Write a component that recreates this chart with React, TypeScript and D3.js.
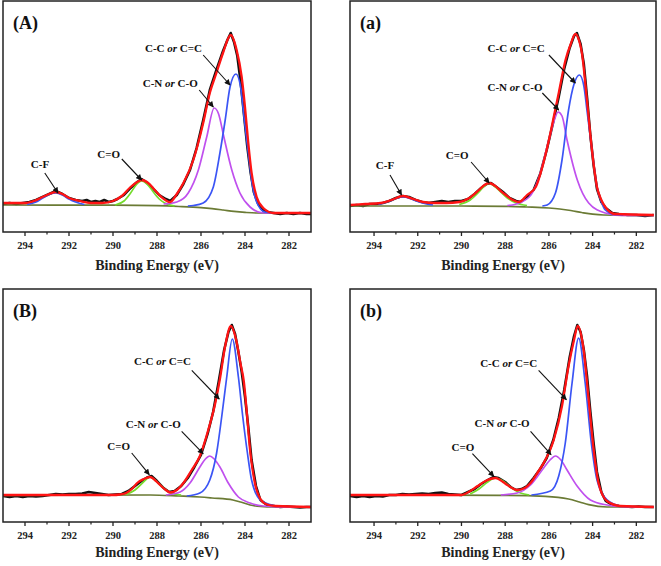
import React from "react";
import * as d3 from "d3";

type Pt = [number, number];

// ---- (A) ----
const rawA: Pt[] = [[295,28],[294.7,29],[294.4,28],[294.1,29],[293.8,30],[293.5,32],[293.2,35],[292.9,38],[292.6,41],[292.3,38],[292.0,34],[291.7,32],[291.4,31],[291.2,32],[291.0,30],[290.8,31],[290.6,30],[290.4,32],[290.2,30],[290.0,31],[289.8,33],[289.5,37],[289.2,44],[288.9,50],[288.7,53],[288.5,50],[288.2,44],[287.9,37],[287.6,33],[287.4,31],[287.1,37],[286.8,48],[286.5,62],[286.2,84],[285.9,112],[285.6,142],[285.3,162],[285.0,181],[284.8,192],[284.65,199],[284.5,190],[284.35,176],[284.2,150],[284.05,118],[283.9,86],[283.75,60],[283.6,40],[283.4,28],[283.2,22],[283.0,20],[282.7,19],[282.4,18],[282.1,19],[281.8,18],[281.5,19],[281.2,18],[281,18]];
const fitA: Pt[] = [[295,29],[294,29],[293.6,31],[293.2,35],[292.9,38],[292.6,40],[292.3,38],[292,34],[291.5,31],[291,29],[290.5,29],[290,31],[289.6,36],[289.2,45],[288.9,50],[288.7,52],[288.4,49],[288.1,42],[287.8,35],[287.4,30],[287.1,38],[286.8,49],[286.35,72],[285.9,109],[285.6,139],[285.3,159],[285.0,179],[284.65,197],[284.38,182],[284.15,155],[284.0,125],[283.85,89],[283.7,59],[283.47,35],[283.17,24],[282.7,19],[281,19]];
const ccA: Pt[] = [[286.6,26],[286.35,26.5],[285.9,29],[285.44,45],[285.14,79],[284.9,112],[284.68,145],[284.41,158],[284.2,145],[284.03,112],[283.85,79],[283.7,52],[283.47,30],[283.1,20],[282.7,19]];
const cnA: Pt[] = [[287.7,28],[287.1,30],[286.58,39],[286.12,62],[285.74,95],[285.4,124],[285.2,118],[284.98,97],[284.6,62],[284.23,39],[283.77,25],[283.17,19],[282.8,19]];
const coA: Pt[] = [[289.9,27],[289.5,31],[289.2,39],[288.95,47],[288.7,51],[288.45,48],[288.2,41],[287.9,33],[287.6,28.5],[287.2,26]];
const cfA: Pt[] = [[293.9,27.5],[293.5,30],[293.2,34],[292.9,37.5],[292.6,39],[292.3,37],[292,33],[291.7,30],[291.3,27.5]];
const bgA: Pt[] = [[295,27],[290,26.8],[288,26.3],[287,25.5],[286,24.3],[285.5,23.3],[285,22],[284.5,20.6],[284,19.6],[283.5,19],[281,18.8]];

// ---- (a) ----
const rawa: Pt[] = [[295.1,26],[294.8,27],[294.5,26],[294.2,28],[293.9,28],[293.6,29],[293.3,31],[293.0,34],[292.7,36],[292.4,35],[292.1,32],[291.8,30],[291.5,29],[291.2,30],[290.9,31],[290.6,30],[290.3,31],[290.0,31],[289.7,33],[289.4,38],[289.1,44],[288.85,48],[288.65,49],[288.4,45],[288.1,40],[287.8,34],[287.5,31],[287.3,30],[287.0,35],[286.7,42],[286.4,58],[286.1,82],[285.8,110],[285.55,135],[285.3,163],[285.05,184],[284.85,196],[284.72,199],[284.55,188],[284.4,168],[284.25,134],[284.1,96],[283.95,66],[283.8,43],[283.6,30],[283.4,24],[283.1,19],[282.8,18],[282.4,17],[282.0,17],[281.6,16],[281.2,17]];
const fita: Pt[] = [[295.1,27],[294.4,28],[293.7,29],[293.2,32],[292.67,36],[292.2,33],[291.76,30],[291.2,29],[290.7,29],[290.1,30],[289.64,34],[289.2,42],[288.95,47],[288.73,49],[288.45,46],[288.2,41],[287.97,37],[287.65,32],[287.36,30],[287.0,37],[286.6,45],[286.3,65],[286.0,92],[285.75,118],[285.55,139],[285.24,172],[285.0,188],[284.79,198],[284.6,190],[284.49,179],[284.26,132],[284.03,82],[283.8,45],[283.6,32],[283.42,25],[282.97,18],[281.2,17]];
const cca: Pt[] = [[286.3,26],[286.08,27],[285.7,39],[285.4,72],[285.1,122],[284.85,148],[284.6,157],[284.4,146],[284.26,122],[284.03,82],[283.8,45],[283.6,30],[283.42,22],[283.0,17.5],[282.6,17]];
const cna: Pt[] = [[287.9,26.5],[287.67,27],[286.9,35],[286.45,55],[286.0,92],[285.75,112],[285.58,120],[285.4,116],[285.17,92],[284.7,52],[284.18,29],[283.42,19],[282.67,16.5],[281.2,16.5]];
const coa: Pt[] = [[290.1,27.5],[289.6,32],[289.2,40],[288.95,46],[288.73,48.5],[288.5,46],[288.2,40],[287.9,34],[287.5,29],[287.0,26.5]];
const cfa: Pt[] = [[293.8,27.5],[293.3,31],[293.0,33.5],[292.67,35],[292.3,33],[292.0,30.5],[291.6,28],[291.3,27]];
const bga: Pt[] = [[295.1,26],[290,26],[288,25.7],[287,25],[286,24],[285.5,23],[285,21.5],[284.5,19.5],[284,17.8],[283.5,17],[281.2,16.5]];

// ---- (B) ----
const rawB: Pt[] = [[295,26],[294.7,25],[294.4,26],[294.1,25],[293.8,26],[293.5,25.5],[293.2,26],[292.9,27],[292.6,28],[292.3,27.5],[292.0,28],[291.7,28],[291.4,28.5],[291.1,30],[290.8,29],[290.5,28],[290.2,27],[289.9,27.5],[289.6,28],[289.3,31],[289.0,36],[288.7,41],[288.45,44.5],[288.25,46],[288.0,41],[287.7,34],[287.45,30],[287.2,31],[286.9,36],[286.6,44],[286.3,55],[286.0,67],[285.7,88],[285.45,110],[285.2,140],[284.95,172],[284.75,190],[284.6,197],[284.45,188],[284.3,170],[284.15,150],[284.0,125],[283.85,95],[283.7,62],[283.5,36],[283.3,22],[283.0,17],[282.7,16],[282.4,15],[282.1,15.5],[281.8,15],[281.5,14.5],[281.2,15],[281,15]];
const fitB: Pt[] = [[295,27],[290,27],[289.7,27.5],[289.4,29],[289.1,34],[288.9,39],[288.6,43],[288.32,45],[288.0,40],[287.86,37],[287.6,32],[287.4,29.5],[287.1,32],[286.8,39],[286.42,52],[286.05,66],[285.67,92],[285.36,118],[285.14,143],[284.9,176],[284.64,196],[284.4,182],[284.2,158],[284.05,140],[283.92,110],[283.77,72],[283.55,39],[283.3,23],[283.0,17.5],[282.6,16],[281,15]];
const ccB: Pt[] = [[286.65,26],[286.05,29],[285.6,42],[285.29,69],[285.06,105],[284.83,145],[284.58,183],[284.3,145],[284.1,105],[283.89,69],[283.7,42],[283.3,22],[282.7,16.5],[282.3,15.5]];
const cnB: Pt[] = [[287.6,27],[286.95,30],[286.5,39],[286.05,55],[285.8,63],[285.6,66],[285.4,63],[285.14,55],[284.76,39],[284.3,25],[283.77,19],[283.17,16],[282.5,15.2],[281,15]];
const coB: Pt[] = [[289.4,27.5],[289.0,32],[288.7,38],[288.5,42.5],[288.32,45],[288.1,42],[287.85,37],[287.6,32],[287.3,28.5],[286.9,27]];
const bgB: Pt[] = [[295,26.7],[288.3,27],[287,26],[286.05,25],[285.5,24],[284.55,22],[284.2,20],[283.77,17],[283.3,15.5],[283.0,15.2],[281,15]];

// ---- (b) ----
const rawb: Pt[] = [[295.1,26],[294.8,25],[294.5,26],[294.2,25],[293.9,26],[293.6,25.5],[293.3,27],[293.0,27],[292.7,28],[292.4,27.5],[292.1,28],[291.8,28.5],[291.5,28],[291.2,29],[290.9,29.5],[290.6,28],[290.3,27.5],[290.0,27],[289.7,30],[289.4,33],[289.1,38],[288.8,42],[288.55,45],[288.3,44],[288.0,40],[287.75,35],[287.5,32],[287.25,33],[287.0,36],[286.7,44],[286.4,53],[286.1,64],[285.8,82],[285.55,104],[285.3,132],[285.05,165],[284.85,186],[284.7,197],[284.55,190],[284.4,172],[284.25,145],[284.1,110],[283.95,78],[283.8,50],[283.6,30],[283.4,21],[283.1,17],[282.8,16],[282.5,15.5],[282.2,15],[281.9,15.5],[281.6,15],[281.2,15]];
const fitb: Pt[] = [[295.1,27],[290,27],[289.6,31],[289.28,35.7],[288.9,41],[288.44,44],[288.1,40],[287.9,37],[287.45,32],[287.1,34],[286.84,39],[286.5,50],[286.24,59],[285.78,82],[285.4,116],[285.1,156],[284.85,182],[284.68,196],[284.41,172],[284.18,122],[283.95,72],[283.73,39],[283.34,21],[282.73,16],[281.2,15]];
const ccb: Pt[] = [[286.8,27],[285.93,31],[285.55,46],[285.25,79],[284.94,139],[284.64,184],[284.34,139],[284.06,79],[283.8,42],[283.34,22],[282.73,16],[282.4,15.5]];
const cnb: Pt[] = [[288.2,27],[287.45,29],[286.84,37],[286.24,54],[285.95,62],[285.7,66],[285.45,62],[285.17,52],[284.71,36],[284.1,22],[283.34,17],[282.6,15.3],[281.2,15]];
const cob: Pt[] = [[289.6,28],[289.2,33],[288.8,40],[288.44,44],[288.1,41],[287.7,34],[287.3,29],[286.9,27]];
const bgb: Pt[] = [[295.1,27],[288.2,26.7],[286.16,25.7],[285.1,23],[284.6,20],[284.18,17.3],[283.34,15],[281.2,15]];

// axis ticks
const majorTicks = [294, 292, 290, 288, 286, 284, 282];
const minorTicks = [293, 291, 289, 287, 285, 283];

// annotations: label parts, text position [E, I], arrow from, arrow to
interface Note { pre: string; it?: string; post?: string; at: Pt; from: Pt; to: Pt }
const notesA: Note[] = [
  { pre: "C-C ", it: "or", post: " C=C", at: [287.25, 180], from: [285.9, 177], to: [284.68, 147] },
  { pre: "C-N ", it: "or", post: " C-O", at: [287.4, 145], from: [286.08, 142], to: [285.44, 125] },
  { pre: "C=O", at: [290.2, 74], from: [289.6, 73], to: [288.7, 52] },
  { pre: "C-F", at: [293.32, 64], from: [293.1, 59], to: [292.5, 39] },
];
const notesa: Note[] = [
  { pre: "C-C ", it: "or", post: " C=C", at: [287.5, 180], from: [286.0, 177], to: [284.79, 149] },
  { pre: "C-N ", it: "or", post: " C-O", at: [287.55, 141], from: [286.3, 139], to: [285.55, 122] },
  { pre: "C=O", at: [290.2, 73], from: [289.56, 70], to: [288.73, 49] },
  { pre: "C-F", at: [293.5, 63], from: [293.27, 57], to: [292.74, 37] },
];
const notesB: Note[] = [
  { pre: "C-C ", it: "or", post: " C=C", at: [287.75, 157], from: [286.42, 151.7], to: [285.17, 123] },
  { pre: "C-N ", it: "or", post: " C-O", at: [288.17, 93.6], from: [286.88, 90.7], to: [285.9, 68.3] },
  { pre: "C=O", at: [289.74, 72], from: [289.15, 69], to: [288.35, 47.3] },
];
const notesb: Note[] = [
  { pre: "C-C ", it: "or", post: " C=C", at: [287.84, 155.3], from: [286.47, 151.7], to: [285.2, 122.3] },
  { pre: "C-N ", it: "or", post: " C-O", at: [288.14, 94.6], from: [286.84, 90.7], to: [285.9, 67.3] },
  { pre: "C=O", at: [289.93, 71], from: [289.5, 68.3], to: [288.52, 45.7] },
];

const RED = "#ff1414";
const BLUE = "#3b55f5";
const MAGENTA = "#c050ee";
const GREEN = "#74dc2c";
const OLIVE = "#6b7b35";
const FONT = "'Liberation Serif', 'Times New Roman', serif";

interface PanelDef {
  tag: string; x: number; y: number; w: number; h: number; yMax: number;
  domain: [number, number]; titleDy: number;
  raw: Pt[]; fit: Pt[]; bg: Pt[]; cc: Pt[]; cn: Pt[]; co: Pt[]; cf?: Pt[]; notes: Note[];
}

const panels: PanelDef[] = [
  { tag: "(A)", x: 3, y: 1, w: 308, h: 231, yMax: 231, domain: [295, 281], titleDy: 38, raw: rawA, fit: fitA, bg: bgA, cc: ccA, cn: cnA, co: coA, cf: cfA, notes: notesA },
  { tag: "(a)", x: 350, y: 1, w: 306, h: 231, yMax: 231, domain: [295.1, 281.1], titleDy: 38, raw: rawa, fit: fita, bg: bga, cc: cca, cn: cna, co: coa, cf: cfa, notes: notesa },
  { tag: "(B)", x: 3, y: 289, w: 308, h: 233, yMax: 233, domain: [295, 281], titleDy: 35, raw: rawB, fit: fitB, bg: bgB, cc: ccB, cn: cnB, co: coB, notes: notesB },
  { tag: "(b)", x: 350, y: 289, w: 306, h: 233, yMax: 233, domain: [295.1, 281.1], titleDy: 35, raw: rawb, fit: fitb, bg: bgb, cc: ccb, cn: cnb, co: cob, notes: notesb },
];

const Panel: React.FC<{ p: PanelDef; idx: number }> = ({ p, idx }) => {
  const x = d3.scaleLinear().domain(p.domain).range([p.x, p.x + p.w]);
  const y = d3.scaleLinear().domain([0, p.yMax]).range([p.y + p.h, p.y]);
  const smooth = d3.line<Pt>().x(d => x(d[0])).y(d => y(d[1])).curve(d3.curveMonotoneX);
  const jag = d3.line<Pt>().x(d => x(d[0])).y(d => y(d[1]));
  const bottom = p.y + p.h;
  const clipId = `clip${idx}`;
  return (
    <g>
      <defs>
        <clipPath id={clipId}>
          <rect x={p.x} y={p.y} width={p.w} height={p.h} />
        </clipPath>
      </defs>
      <g clipPath={`url(#${clipId})`} fill="none" strokeLinejoin="round">
        <path d={jag(p.raw) || ""} stroke="#111" strokeWidth={2.5} />
        <path d={smooth(p.bg) || ""} stroke={OLIVE} strokeWidth={1.7} />
        {p.cf && <path d={smooth(p.cf) || ""} stroke={BLUE} strokeWidth={1.7} />}
        <path d={smooth(p.co) || ""} stroke={GREEN} strokeWidth={1.7} />
        <path d={smooth(p.cn) || ""} stroke={MAGENTA} strokeWidth={1.7} />
        <path d={smooth(p.cc) || ""} stroke={BLUE} strokeWidth={1.7} />
        <path d={smooth(p.fit) || ""} stroke={RED} strokeWidth={2.3} />
      </g>
      <rect x={p.x} y={p.y} width={p.w} height={p.h} fill="none" stroke="#222" strokeWidth={1.5} />
      {majorTicks.map(t => (
        <g key={t}>
          <line x1={x(t)} x2={x(t)} y1={bottom} y2={bottom + 4} stroke="#222" strokeWidth={1.3} />
          <text x={x(t)} y={bottom + 17} textAnchor="middle" fontFamily={FONT} fontWeight="bold" fontSize={10.5} fill="#222">{t}</text>
        </g>
      ))}
      {minorTicks.map(t => (
        <line key={t} x1={x(t)} x2={x(t)} y1={bottom} y2={bottom + 2.5} stroke="#222" strokeWidth={1.2} />
      ))}
      <text x={p.x + p.w / 2} y={bottom + p.titleDy} textAnchor="middle" fontFamily={FONT} fontWeight="bold" fontSize={14} fill="#222">Binding Energy (eV)</text>
      <text x={p.x + 10} y={p.y + 28} fontFamily={FONT} fontWeight="bold" fontSize={18} fill="#111">{p.tag}</text>
      {p.notes.map((n, i) => (
        <g key={i}>
          <line x1={x(n.from[0])} y1={y(n.from[1])} x2={x(n.to[0])} y2={y(n.to[1])} stroke="#111" strokeWidth={1.1} markerEnd="url(#arrowHead)" />
          <text x={x(n.at[0])} y={y(n.at[1])} textAnchor="middle" fontFamily={FONT} fontWeight="bold" fontSize={11} fill="#111">
            {n.pre}
            {n.it && <tspan fontStyle="italic">{n.it}</tspan>}
            {n.post}
          </text>
        </g>
      ))}
    </g>
  );
};

const App: React.FC = () => (
  <svg width={661} height={566} style={{ position: "absolute", left: 0, top: 0, background: "#fff" }}>
    <defs>
      <marker id="arrowHead" viewBox="0 0 10 10" refX={9} refY={5} markerWidth={7} markerHeight={6} markerUnits="userSpaceOnUse" orient="auto">
        <path d="M0,0 L10,5 L0,10 z" fill="#111" />
      </marker>
    </defs>
    <rect width={661} height={566} fill="#fff" />
    {panels.map((p, i) => <Panel key={p.tag} p={p} idx={i} />)}
  </svg>
);

export default App;
